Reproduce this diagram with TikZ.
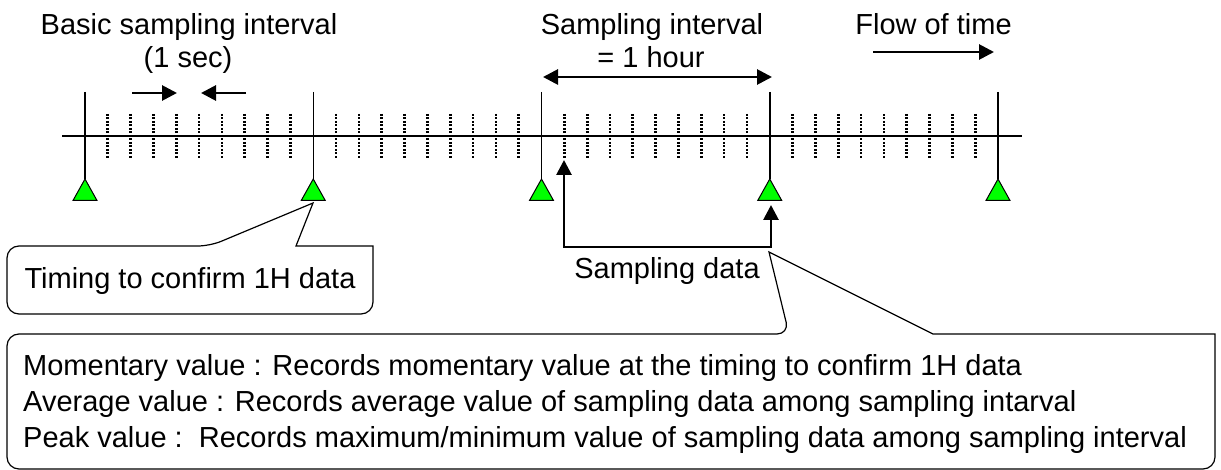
\documentclass[tikz,border=0pt]{standalone}
\usepackage{fontspec}
\setmainfont{Liberation Sans}
\usetikzlibrary{arrows.meta}
\definecolor{markgreen}{RGB}{0,255,0}

\begin{document}
\begin{tikzpicture}[x=1pt,y=-1pt,
  axisline/.style={line width=1.5pt},
  bigtick/.style={line width=1.5pt},
  subtick/.style={line width=2.7pt, dash pattern=on 2pt off 1.5pt},
  marker/.style={fill=markgreen, draw=black, line width=1pt, line join=miter},
  arr/.style={line width=2.8pt, -{Triangle[length=15pt,width=15pt]}},
  darr/.style={line width=2.8pt, line join=miter,
    {Triangle[length=15pt,width=15pt]}-{Triangle[length=15pt,width=15pt]}},
  callout/.style={draw=black, fill=white, line width=1.2pt, line join=miter},
  lbl/.style={font=\fontsize{29}{35}\selectfont, inner sep=0pt, anchor=base}
]
\useasboundingbox (0,0) rectangle (1221,470);

% time axis
\coordinate (axL) at (62,136);
\coordinate (axR) at (1022,136);
\draw[axisline] (axL) -- (axR);

% one-second sub-ticks (dotted)
\foreach \i in {0,...,3}{
  \foreach \k in {1,...,9}{
    \pgfmathsetmacro{\xx}{85+228.25*\i+22.825*\k}
    \draw[subtick] (\xx,114) -- (\xx,158);
  }
}

% hourly ticks with green markers
\foreach \i in {0,...,4}{
  \pgfmathsetmacro{\xx}{85+228.25*\i}
  \coordinate (top\i) at (\xx,92);
  \coordinate (apex\i) at (\xx,179);
  \draw[bigtick] (top\i) -- (apex\i);
  \draw[marker] ([xshift=-12pt]\xx,200.5) -- (apex\i) -- ([xshift=12pt]\xx,200.5) -- cycle;
}

% headings
\node[lbl] (basic) at (189,35) {Basic sampling interval};
\node[lbl] (onesec) at (188,68) {(1 sec)};
\node[lbl] (sint) at (652,35) {Sampling interval};
\node[lbl] (onehour) at (651,68) {= 1 hour};
\node[lbl] (flow) at (933.5,35) {Flow of time};

% arrows of the headings
\coordinate (sa1) at (132,93);  \coordinate (sa2) at (177,93);
\coordinate (sb1) at (246,93);  \coordinate (sb2) at (201,93);
\draw[arr] (sa1) -- (sa2);
\draw[arr] (sb1) -- (sb2);
\coordinate (ha1) at (543,77);  \coordinate (ha2) at (772,77);
\draw[darr] (ha1) -- (ha2);
\coordinate (fa1) at (873,52);  \coordinate (fa2) at (994,52);
\draw[arr] (fa1) -- (fa2);

% sampling data bracket
\coordinate (sd1) at (564,160);
\coordinate (sd2) at (564,247);
\coordinate (sd3) at (771,247);
\coordinate (sd4) at (771,205);
\draw[darr] (sd1) -- (sd2) -- (sd3) -- (sd4);
\node[lbl] (sdata) at (667,279) {Sampling data};

% callout: timing to confirm 1H data
\draw[callout] (190,314) [rounded corners=12pt] -- (7,314) -- (7,246) -- (210,246)
  [sharp corners] -- (313,203) -- (296,246) -- (373,246)
  [rounded corners=12pt] -- (373,314) -- cycle;
\node[lbl] (timing) at (190,289) {Timing to confirm 1H data};

% callout: recording modes
\draw[callout] (600,469) [rounded corners=12pt] -- (7,469) -- (7,334) -- (789,334)
  [sharp corners] -- (769,252) -- (933,334) -- (1215,334)
  [rounded corners=12pt] -- (1215,469) -- cycle;
\node[lbl, anchor=base west] (mom) at (23,375) {Momentary value : Records momentary value at the timing to confirm 1H data};
\node[lbl, anchor=base west] (avg) at (23,411) {Average value : Records average value of sampling data among sampling intarval};
\node[lbl, anchor=base west] (peak) at (23,447) {Peak value :\ \ Records maximum/minimum value of sampling data among sampling interval};
\end{tikzpicture}
\end{document}
